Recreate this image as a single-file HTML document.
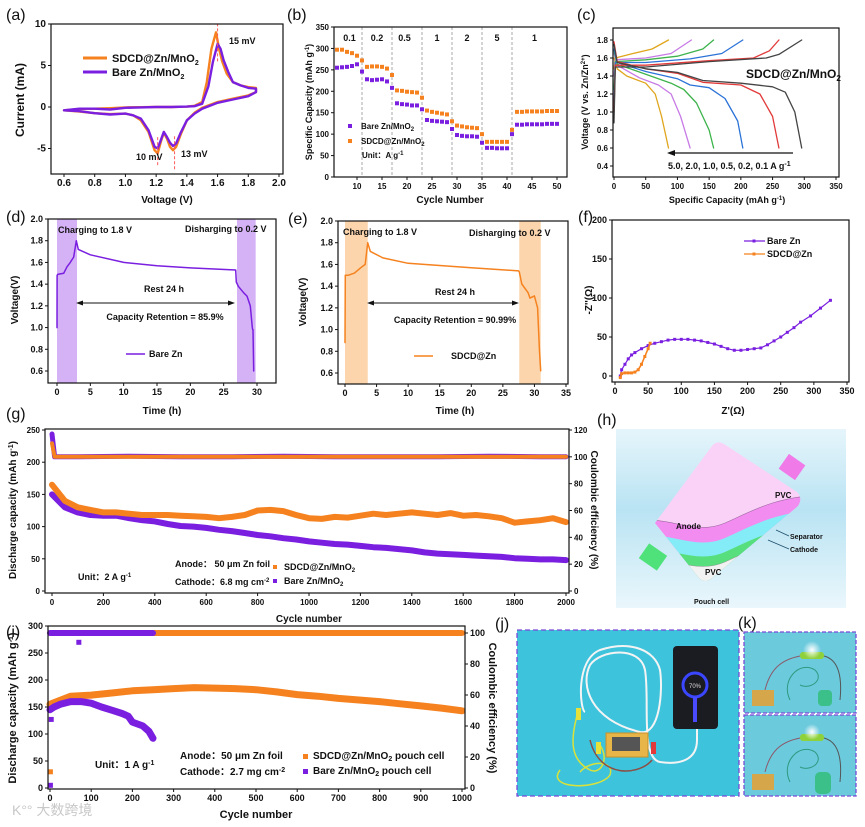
<!DOCTYPE html>
<html><head><meta charset="utf-8"><title>Battery figure</title>
<style>
html,body{margin:0;padding:0;background:#fff;}
svg{display:block;font-family:"Liberation Sans","Noto Sans CJK SC",sans-serif;}
.t{font-size:9px;font-weight:bold;fill:#111;}
.tt{font-size:10px;font-weight:bold;fill:#111;}
.pl{font-size:16px;fill:#111;}
</style></head>
<body>
<svg id="fig" width="865" height="827" viewBox="0 0 865 827" xmlns="http://www.w3.org/2000/svg">
<defs>
<linearGradient id="hbg" x1="0" y1="0" x2="0" y2="1">
<stop offset="0" stop-color="#e6f5fb"/><stop offset="0.45" stop-color="#b9e3f3"/><stop offset="1" stop-color="#eaf7fc"/>
</linearGradient>
<clipPath id="pouchclip"><path d="M655,523 L712,446 Q717,440 724,444 L797,492 Q803,498 798,506 L712,578 Q705,584 699,578 Z"/></clipPath>
<radialGradient id="glow" cx="0.5" cy="0.5" r="0.5"><stop offset="0" stop-color="#fff"/><stop offset="1" stop-color="#fff" stop-opacity="0"/></radialGradient>
</defs>

<!-- panel labels -->
<text class="pl" x="6" y="20">(a)</text>
<text class="pl" x="287" y="20">(b)</text>
<text class="pl" x="577" y="20">(c)</text>
<text class="pl" x="6" y="222">(d)</text>
<text class="pl" x="288" y="224">(e)</text>
<text class="pl" x="578" y="222">(f)</text>
<text class="pl" x="6" y="419">(g)</text>
<text class="pl" x="597" y="425">(h)</text>
<text class="pl" x="6" y="637">(i)</text>
<text class="pl" x="495" y="629">(j)</text>
<text class="pl" x="738" y="628">(k)</text>

<!-- axis titles -->
<text class="tt" x="167" y="203" text-anchor="middle">Voltage (V)</text>
<text class="tt" x="24" y="100" text-anchor="middle" transform="rotate(-90 24 100)" style="font-size:12px">Current (mA)</text>
<text class="tt" x="450" y="203" text-anchor="middle">Cycle Number</text>
<text class="t" x="312" y="102" text-anchor="middle" transform="rotate(-90 312 102)">Specific Capacity (mAh g<tspan dy="-3" font-size="6">-1</tspan><tspan dy="3">)</tspan></text>
<text class="t" x="727" y="203" text-anchor="middle">Specific Capacity (mAh g<tspan dy="-3" font-size="6">-1</tspan><tspan dy="3">)</tspan></text>
<text class="t" x="588" y="102" text-anchor="middle" transform="rotate(-90 588 102)">Voltage (V vs. Zn/Zn<tspan dy="-3" font-size="6">2+</tspan><tspan dy="3">)</tspan></text>
<text class="tt" x="162" y="414" text-anchor="middle">Time (h)</text>
<text class="tt" x="18" y="300" text-anchor="middle" transform="rotate(-90 18 300)">Voltage(V)</text>
<text class="tt" x="455" y="414" text-anchor="middle">Time (h)</text>
<text class="tt" x="306" y="302" text-anchor="middle" transform="rotate(-90 306 302)">Voltage(V)</text>
<text class="tt" x="733" y="414" text-anchor="middle">Z'(Ω)</text>
<text class="tt" x="592" y="300" text-anchor="middle" transform="rotate(-90 592 300)">-Z''(Ω)</text>
<text class="tt" x="309" y="622" text-anchor="middle">Cycle number</text>
<text class="tt" x="16" y="510" text-anchor="middle" transform="rotate(-90 16 510)">Discharge capacity (mAh g<tspan dy="-3" font-size="7">-1</tspan><tspan dy="3">)</tspan></text>
<text class="tt" x="591" y="510" text-anchor="middle" transform="rotate(90 591 510)">Coulombic efficiency (%)</text>
<text class="tt" x="256" y="818" text-anchor="middle" style="font-size:11px">Cycle number</text>
<text class="tt" x="16" y="708" text-anchor="middle" transform="rotate(-90 16 708)" style="font-size:11px">Discharge capacity (mAh g<tspan dy="-3" font-size="7">-1</tspan><tspan dy="3">)</tspan></text>
<text class="tt" x="489" y="708" text-anchor="middle" transform="rotate(90 489 708)" style="font-size:11px">Coulombic efficiency (%)</text>

<g id="plots"></g>

<!-- panel a legend & annotations -->
<g>
<line x1="83" y1="58" x2="107" y2="58" stroke="#f5821f" stroke-width="3"/>
<text class="tt" x="112" y="62" style="font-size:11px">SDCD@Zn/MnO<tspan dy="3" font-size="7">2</tspan></text>
<line x1="83" y1="72" x2="107" y2="72" stroke="#7a1fe0" stroke-width="3"/>
<text class="tt" x="112" y="76" style="font-size:11px">Bare Zn/MnO<tspan dy="3" font-size="7">2</tspan></text>
</g>
<text class="t" x="229" y="44">15 mV</text>
<text class="t" x="136" y="160">10 mV</text>
<text class="t" x="181" y="157">13 mV</text>

<!-- panel b legend -->
<g>
<rect x="348" y="124" width="4" height="4" fill="#7a1fe0"/>
<text class="t" x="361" y="129" style="font-size:8px">Bare Zn/MnO<tspan dy="2" font-size="6">2</tspan></text>
<rect x="348" y="139" width="4" height="4" fill="#f5821f"/>
<text class="t" x="361" y="144" style="font-size:8px">SDCD@Zn/MnO<tspan dy="2" font-size="6">2</tspan></text>
<text class="t" x="362" y="158" style="font-size:8px">Unit：A g<tspan dy="-3" font-size="6">-1</tspan></text>
</g>

<!-- panel c annotations -->
<text class="tt" x="746" y="78" style="font-size:12px">SDCD@Zn/MnO<tspan dy="3" font-size="8">2</tspan></text>
<line x1="793" y1="153" x2="672" y2="153" stroke="#111" stroke-width="1.2"/>
<polygon points="667,153 675,150 675,156" fill="#111"/>
<text class="t" x="668" y="169">5.0,  2.0,  1.0,  0.5,  0.2,  0.1 A g<tspan dy="-3" font-size="7">-1</tspan></text>

<!-- panel d annotations -->
<text class="t" x="58" y="233">Charging to 1.8 V</text>
<text class="t" x="185" y="232">Disharging to 0.2 V</text>
<text class="t" x="164" y="292" text-anchor="middle">Rest 24 h</text>
<line x1="80" y1="303" x2="231" y2="303" stroke="#111" stroke-width="1"/>
<polygon points="76,303 83,300.5 83,305.5" fill="#111"/><polygon points="235,303 228,300.5 228,305.5" fill="#111"/>
<text class="t" x="165" y="320" text-anchor="middle">Capacity Retention = 85.9%</text>
<line x1="126" y1="354" x2="145" y2="354" stroke="#7a1fe0" stroke-width="1.5"/>
<text class="t" x="149" y="357">Bare Zn</text>

<!-- panel e annotations -->
<text class="t" x="343" y="235">Charging to 1.8 V</text>
<text class="t" x="469" y="236">Disharging to 0.2 V</text>
<text class="t" x="455" y="295" text-anchor="middle">Rest 24 h</text>
<line x1="371" y1="303" x2="515" y2="303" stroke="#111" stroke-width="1"/>
<polygon points="367,303 374,300.5 374,305.5" fill="#111"/><polygon points="519,303 512,300.5 512,305.5" fill="#111"/>
<text class="t" x="455" y="323" text-anchor="middle">Capacity Retention = 90.99%</text>
<line x1="414" y1="356" x2="433" y2="356" stroke="#f5821f" stroke-width="1.5"/>
<text class="t" x="451" y="359">SDCD@Zn</text>

<!-- panel f legend -->
<g>
<line x1="744" y1="241" x2="765" y2="241" stroke="#7a1fe0" stroke-width="1.2"/><rect x="752.5" y="239.5" width="3" height="3" fill="#7a1fe0"/>
<text class="t" x="767" y="244">Bare Zn</text>
<line x1="744" y1="254" x2="765" y2="254" stroke="#f5821f" stroke-width="1.2"/><rect x="752.5" y="252.5" width="3" height="3" fill="#f5821f"/>
<text class="t" x="767" y="257">SDCD@Zn</text>
</g>

<!-- panel g annotations -->
<text class="t" x="78" y="580">Unit：2 A g<tspan dy="-3" font-size="6">-1</tspan></text>
<text class="t" x="175" y="567">Anode：  50 μm Zn foil</text>
<text class="t" x="175" y="585">Cathode：6.8 mg cm<tspan dy="-3" font-size="6">-2</tspan></text>
<rect x="273" y="565" width="4" height="4" fill="#f5821f"/>
<text class="t" x="284" y="570">SDCD@Zn/MnO<tspan dy="2" font-size="6">2</tspan></text>
<rect x="273" y="579" width="4" height="4" fill="#7a1fe0"/>
<text class="t" x="284" y="584">Bare Zn/MnO<tspan dy="2" font-size="6">2</tspan></text>

<!-- panel i annotations -->
<text class="t" x="95" y="768" style="font-size:10px">Unit：1 A g<tspan dy="-3" font-size="7">-1</tspan></text>
<text class="t" x="180" y="759" style="font-size:10px">Anode：50 μm Zn foil</text>
<text class="t" x="180" y="775" style="font-size:10px">Cathode：2.7 mg cm<tspan dy="-3" font-size="7">-2</tspan></text>
<rect x="303" y="754" width="5" height="5" fill="#f5821f"/>
<text class="t" x="313" y="759" style="font-size:10px">SDCD@Zn/MnO<tspan dy="2" font-size="7">2</tspan><tspan dy="-2"> pouch cell</tspan></text>
<rect x="303" y="769" width="5" height="5" fill="#7a1fe0"/>
<text class="t" x="313" y="774" style="font-size:10px">Bare Zn/MnO<tspan dy="2" font-size="7">2</tspan><tspan dy="-2"> pouch cell</tspan></text>
<text x="12" y="815" style="font-size:14px;fill:#c8c8c8">K°° 大数跨境</text>

<!-- panel h: pouch cell schematic -->
<g>
<rect x="616" y="429" width="230" height="179" fill="url(#hbg)"/>
<rect x="782" y="458" width="20" height="18" fill="#f07ae8" transform="rotate(35 792 467)"/>
<rect x="642" y="548" width="22" height="18" fill="#4fe27a" transform="rotate(35 653 557)"/>
<g clip-path="url(#pouchclip)">
<rect x="640" y="430" width="180" height="170" fill="#fbd2f7"/>
<path d="M640,521 C670,516 695,536 725,523 C752,511 775,497 820,495 L820,610 L640,610 Z" fill="#f28cf0" stroke="#9b6aa0" stroke-width="0.6"/>
<path d="M640,536 C670,531 695,551 725,538 C752,526 775,512 820,510 L820,610 L640,610 Z" fill="#84ecf7"/>
<path d="M640,550 C670,545 695,565 725,552 C752,540 775,526 820,524 L820,610 L640,610 Z" fill="#56df7c"/>
<path d="M640,560 C670,555 695,575 725,562 C752,550 775,536 820,534 L820,610 L640,610 Z" fill="#f2f2f2" stroke="#999" stroke-width="0.5"/>
</g>
<line x1="776" y1="530" x2="789" y2="536" stroke="#1d4f6b" stroke-width="0.8"/>
<line x1="768" y1="540" x2="789" y2="549" stroke="#1d4f6b" stroke-width="0.8"/>
<text class="t" x="775" y="498" style="font-size:8px">PVC</text>
<text class="t" x="676" y="529" style="font-size:8px">Anode</text>
<text class="t" x="790" y="539" style="font-size:7px">Separator</text>
<text class="t" x="790" y="552" style="font-size:7px">Cathode</text>
<text class="t" x="705" y="575" style="font-size:8px">PVC</text>
<text class="t" x="694" y="604" style="font-size:7px">Pouch cell</text>
</g>

<!-- panel j photo -->
<g>
<rect x="517" y="630" width="222" height="166" fill="#3ec3dc" stroke="#7b4ad6" stroke-width="1.3" stroke-dasharray="5,3"/>
<rect x="673" y="646" width="45" height="83" rx="4" fill="#1b1b22"/>
<circle cx="695" cy="685" r="12" fill="none" stroke="#3b46ff" stroke-width="3"/>
<path d="M695,697 L695,722" stroke="#4a4aff" stroke-width="4"/>
<text x="695" y="688" text-anchor="middle" style="font-size:6px;fill:#ddd">70%</text>
<path d="M697,729 L697,740 C697,760 680,765 660,762 C640,758 650,700 645,670 C640,645 600,650 590,665 C580,685 590,720 640,732 C660,736 663,690 660,670 C655,650 630,640 600,650 C575,660 580,710 585,712" fill="none" stroke="#f4f4f4" stroke-width="2"/>
<path d="M578,712 C570,740 570,760 590,770 C600,775 610,760 600,745" fill="none" stroke="#d9e23a" stroke-width="1.5"/>
<path d="M560,770 C545,790 600,790 610,775 C615,760 590,760 580,772" fill="none" stroke="#d9e23a" stroke-width="1.5"/>
<path d="M590,740 C600,780 640,775 652,760" fill="none" stroke="#8b4f44" stroke-width="1.5"/>
<rect x="606" y="733" width="42" height="24" fill="#e8b548" stroke="#c8902a"/>
<rect x="612" y="737" width="28" height="14" fill="#555"/>
<rect x="576" y="708" width="5" height="12" fill="#e8e13a"/>
<rect x="596" y="742" width="5" height="12" fill="#e8e13a"/>
<rect x="651" y="742" width="5" height="12" fill="#e23a3a"/>
</g>

<!-- panel k photos -->
<g>
<rect x="744" y="632" width="112" height="81" fill="#6ccadd" stroke="#7b4ad6" stroke-width="1.3" stroke-dasharray="4,2"/>
<rect x="800" y="652" width="24" height="7" rx="3" fill="#8ed13a"/>
<circle cx="812" cy="650" r="9" fill="url(#glow)"/>
<path d="M800,656 C780,660 770,670 765,690" fill="none" stroke="#8b5a6a" stroke-width="1"/>
<path d="M824,656 C840,660 842,680 840,700" fill="none" stroke="#555" stroke-width="1"/>
<path d="M790,700 C780,680 800,660 815,670 C825,680 810,690 800,685" fill="none" stroke="#2d9a80" stroke-width="1"/>
<rect x="752" y="690" width="22" height="16" fill="#d6a64a"/>
<rect x="818" y="690" width="14" height="16" rx="4" fill="#3cc08a"/>
</g>
<g>
<rect x="744" y="715" width="112" height="81" fill="#6ccadd" stroke="#7b4ad6" stroke-width="1.3" stroke-dasharray="4,2"/>
<rect x="800" y="734" width="24" height="7" rx="3" fill="#8ed13a"/>
<circle cx="812" cy="732" r="8" fill="url(#glow)"/>
<path d="M800,738 C780,742 770,752 765,772" fill="none" stroke="#8b5a6a" stroke-width="1"/>
<path d="M824,738 C840,742 842,762 840,782" fill="none" stroke="#555" stroke-width="1"/>
<path d="M790,782 C780,762 800,742 815,752 C825,762 810,772 800,767" fill="none" stroke="#2d9a80" stroke-width="1"/>
<rect x="752" y="774" width="22" height="16" fill="#d6a64a"/>
<rect x="815" y="772" width="16" height="22" rx="5" fill="#3cc08a"/>
</g>

<script>
// ---------- data ----------
// (a) CV
const aVoltSdcd = [0.6,0.7,0.8,0.9,1.0,1.1,1.2,1.3,1.4,1.45,1.5,1.53,1.56,1.59,1.61,1.63,1.66,1.7,1.75,1.8,1.85,1.85,1.8,1.7,1.6,1.5,1.45,1.4,1.36,1.33,1.31,1.29,1.27,1.25,1.23,1.21,1.19,1.15,1.1,1.05,1.0,0.9,0.8,0.7,0.6];
const aCurrSdcd = [-0.4,-0.25,-0.2,-0.15,-0.05,-0.02,0,0,0.05,0.15,0.6,3,7,9,7,5.5,4,3,2.6,2.4,2.3,1.8,1.4,1.0,0.6,-0.1,-0.7,-1.6,-3.3,-4.8,-5.2,-4.8,-3.8,-3.1,-4.2,-5.6,-5.2,-3,-1.6,-1.0,-0.8,-0.85,-0.75,-0.55,-0.4];
const aVoltBare = [0.6,0.7,0.8,0.9,1.0,1.1,1.2,1.3,1.4,1.45,1.5,1.54,1.57,1.6,1.62,1.64,1.67,1.7,1.75,1.8,1.85,1.85,1.8,1.7,1.6,1.5,1.45,1.4,1.36,1.33,1.31,1.29,1.27,1.25,1.23,1.21,1.19,1.15,1.1,1.05,1.0,0.9,0.8,0.7,0.6];
const aCurrBare = [-0.4,-0.2,-0.2,-0.3,-0.1,-0.05,0,0,0.05,0.1,0.4,2.5,5.5,7.6,7,5.6,4.2,3,2.6,2.3,2.2,1.8,1.3,0.9,0.5,-0.2,-0.8,-1.6,-3.1,-4.4,-4.7,-4.3,-3.6,-3.0,-4.0,-5.0,-4.8,-2.8,-1.4,-1.0,-0.8,-0.9,-0.75,-0.5,-0.4];
const aPeakV = [1.21,1.32,1.6];
const aXTicks = [0.6,0.8,1.0,1.2,1.4,1.6,1.8,2.0];
const aYTicks = [-5,0,5,10];
// (b) rate
const bCycles = [6,7,8,9,10,11,12,13,14,15,16,17,18,19,20,21,22,23,24,25,26,27,28,29,30,31,32,33,34,35,36,37,38,39,40,41,42,43,44,45,46,47,48,49,50];
const bSdcd = [297,297,292,289,283,272,257,258,258,257,253,238,202,201,199,198,197,185,155,152,150,148,146,130,120,118,116,115,114,100,82,82,82,82,82,110,152,152,153,153,153,153,154,154,154];
const bBare = [255,256,257,259,263,246,228,226,227,228,223,208,172,170,169,167,167,158,133,131,130,129,128,112,98,96,95,95,94,80,68,68,67,67,67,100,122,122,123,123,123,123,124,124,124];
const bDividers = [11,17,23,29,35,41];
const bRates = ['0.1','0.2','0.5','1','2','5','1'];
const bRateCycle = [8.5,14,19.5,26,32,38,45.5];
const bXTicks = [10,15,20,25,30,35,40,45,50];
const bYTicks = [0,50,100,150,200,250,300,350];
// (c) GCD curves (order: 5.0, 2.0, 1.0, 0.5, 0.2, 0.1 A/g)
const cColors = ['#e0a51c','#c77ae6','#3db34b','#2c73d8','#e23a3a','#444444'];
const cDisCap = [[0,5,20,50,65,75,86],[0,5,40,70,90,105,120],[0,5,50,90,110,130,150,157],[0,5,50,100,120,150,175,195,203],[0,5,50,100,140,200,230,250,260],[0,5,50,100,140,200,250,270,285,296]];
const cDisV = [[1.6,1.48,1.4,1.32,1.2,0.95,0.6],[1.65,1.52,1.38,1.3,1.2,0.95,0.6],[1.68,1.53,1.42,1.32,1.25,1.1,0.8,0.6],[1.7,1.55,1.45,1.37,1.3,1.27,1.15,0.9,0.6],[1.78,1.56,1.48,1.43,1.33,1.3,1.2,0.95,0.6],[1.75,1.55,1.48,1.44,1.35,1.32,1.28,1.22,1.0,0.6]];
const cChgCap = [[0,2,30,60,86],[0,2,50,90,122],[0,2,50,100,140,157],[0,2,50,120,170,203],[0,2,50,150,220,245,260],[0,2,50,150,240,260,296]];
const cChgV = [[1.48,1.6,1.65,1.7,1.8],[1.4,1.58,1.6,1.65,1.8],[1.25,1.56,1.58,1.62,1.7,1.8],[1.1,1.55,1.55,1.59,1.65,1.8],[1.0,1.52,1.52,1.57,1.6,1.68,1.8],[0.88,1.5,1.5,1.56,1.6,1.64,1.8]];
const cXTicks = [0,50,100,150,200,250,300,350];
const cYTicks = [0.4,0.6,0.8,1.0,1.2,1.4,1.6,1.8];
// (d) bare Zn self-discharge
const dTime = [0,0.02,0.1,1,1.5,2,2.5,2.9,3.2,5,10,15,20,26.8,26.9,27.2,28,28.5,29,29.3,29.35,29.4,29.5];
const dVolt = [1.0,1.48,1.49,1.5,1.56,1.6,1.65,1.8,1.72,1.67,1.6,1.57,1.55,1.53,1.42,1.38,1.32,1.29,1.2,1.0,0.98,0.98,0.6];
const dShade = [[0,3],[27,29.8]];
// (e) SDCD self-discharge
const eTime = [0,0.05,0.5,1.5,2.5,3.2,3.6,4,6,10,20,27.5,27.6,28,29,29.3,30,30.5,30.8,31];
const eVolt = [0.88,1.5,1.5,1.52,1.57,1.6,1.8,1.72,1.66,1.61,1.57,1.54,1.53,1.42,1.34,1.29,1.31,1.2,0.8,0.62];
const eShade = [[0,3.6],[27.6,31]];
const dXTicks = [0,5,10,15,20,25,30];
const eXTicks = [0,5,10,15,20,25,30,35];
const deYTicks = [0.6,0.8,1.0,1.2,1.4,1.6,1.8,2.0];
// (f) EIS
const fReBare = [8,10,15,20,25,30,40,50,60,70,80,90,100,110,120,130,140,150,160,170,180,190,200,210,220,230,240,250,260,270,280,295,310,325];
const fImBare = [0,8,15,22,27,30,35,39,42,44,46,47,47,47,46,45,43,41,38,35,33,33,34,35,36,40,45,50,56,62,69,77,87,97];
const fReSdcd = [8,10,15,20,25,30,35,40,45,50,53];
const fImSdcd = [-2,3,4,4,4,5,8,15,25,35,42];
const fXTicks = [0,50,100,150,200,250,300,350];
const fYTicks = [0,50,100,150,200];
// (g) long cycling 2 A/g
const gCycles = [0,50,100,150,200,250,300,350,400,450,500,550,600,650,700,750,800,850,900,950,1000,1050,1100,1150,1200,1250,1300,1350,1400,1450,1500,1550,1600,1650,1700,1750,1800,1850,1900,1950,2000];
const gSdcd = [165,140,130,126,122,122,120,118,118,118,117,116,115,113,115,118,125,126,124,118,113,112,115,114,117,120,118,120,122,120,118,121,117,118,116,113,106,108,110,113,107];
const gBare = [150,130,122,118,117,117,113,110,108,104,101,100,98,95,93,90,87,85,82,80,77,75,73,72,70,68,67,65,63,60,58,57,56,55,54,53,51,50,49,49,48];
const gCeCycles = [0,10,100,300,500,700,900,1100,1300,1500,1700,1900,2000];
const gCeSdcd = [110,100,100,100,100,100,100,100,100,100,100,100,100];
const gCeBare = [117,100,100,100.5,100,100,100.5,100,100,100,100.5,100,100];
const gXTicks = [0,200,400,600,800,1000,1200,1400,1600,1800,2000];
const gYTicks = [0,50,100,150,200,250];
const gY2Ticks = [0,20,40,60,80,100,120];
// (i) pouch cell 1 A/g
const iCycSdcd = [0,50,100,150,200,250,300,350,400,450,500,550,600,650,700,750,800,850,900,950,1000];
const iSdcd = [155,170,172,176,180,182,184,186,185,184,182,178,173,170,166,163,160,156,152,148,143];
const iCycBare = [0,10,25,50,75,100,125,150,175,190,200,225,240,250];
const iBare = [145,150,155,160,160,157,150,144,138,133,122,115,105,92];
const iCeCycSdcd = [250,1000];
const iCeSdcd = [100,100];
const iCeCycBare = [0,100,200,250];
const iCeBare = [100,100,100,100];
const iOutCyc = [1,3,70];
const iOutVal = [5,127,94];
const iXTicks = [0,100,200,300,400,500,600,700,800,900,1000];
const iYTicks = [0,50,100,150,200,250,300];
const iY2Ticks = [0,20,40,60,80,100];

// ---------- helpers ----------
const NS = 'http://www.w3.org/2000/svg';
const root = document.getElementById('plots');
function sc(d0, d1, r0, r1) { return v => r0 + (v - d0) * (r1 - r0) / (d1 - d0); }
function mk(tag, parent, name) {
  const e = document.createElementNS(NS, tag);
  
  
  parent.appendChild(e);
  return e;
}
function group(name) { return mk('g', root, name); }
function frame(g, x0, y0, x1, y1, name) {
  const r = mk('rect', g, name);
  r.setAttribute('x', x0); r.setAttribute('y', y0);
  r.setAttribute('width', x1 - x0); r.setAttribute('height', y1 - y0);
  r.setAttribute('fill', 'none'); r.setAttribute('stroke', '#111'); r.setAttribute('stroke-width', '1.2');
}
function label(g, x, y, s, anchor, name, size) {
  const t = mk('text', g, name);
  t.setAttribute('x', x); t.setAttribute('y', y);
  t.setAttribute('class', 't');
  t.setAttribute('text-anchor', anchor);
  if (size) t.style.fontSize = size + 'px';
  t.textContent = s;
  return t;
}
function fmt(v, dec) { return dec ? v.toFixed(dec) : String(v); }
function xAxis(g, s, ticks, yb, name, size, dec) {
  ticks.forEach(v => {
    const l = mk('line', g, name + '-tick');
    l.setAttribute('x1', s(v)); l.setAttribute('x2', s(v));
    l.setAttribute('y1', yb); l.setAttribute('y2', yb + 3);
    l.setAttribute('stroke', '#111');
    label(g, s(v), yb + 12, fmt(v, dec), 'middle', name + '-tick-label', size);
  });
}
function yAxis(g, s, ticks, xb, side, name, size, dec) {
  ticks.forEach(v => {
    const l = mk('line', g, name + '-tick');
    l.setAttribute('x1', xb); l.setAttribute('x2', xb + 3 * side);
    l.setAttribute('y1', s(v)); l.setAttribute('y2', s(v));
    l.setAttribute('stroke', '#111');
    label(g, xb + 5 * side, s(v) + 3, fmt(v, dec), side < 0 ? 'end' : 'start', name + '-tick-label', size);
  });
}
function line(g, xs, ys, sx, sy, color, w, name) {
  const p = mk('polyline', g, name);
  p.setAttribute('points', xs.map((x, i) => sx(x).toFixed(1) + ',' + sy(ys[i]).toFixed(1)).join(' '));
  p.setAttribute('fill', 'none'); p.setAttribute('stroke', color);
  p.setAttribute('stroke-width', w); p.setAttribute('stroke-linejoin', 'round'); p.setAttribute('stroke-linecap', 'round');
  return p;
}
function squares(g, xs, ys, sx, sy, color, size, name) {
  xs.forEach((x, i) => {
    const r = mk('rect', g, name);
    r.setAttribute('x', sx(x) - size / 2); r.setAttribute('y', sy(ys[i]) - size / 2);
    r.setAttribute('width', size); r.setAttribute('height', size); r.setAttribute('fill', color);
  });
}
const OR = '#f5821f', PU = '#7a1fe0';

// (a)
(function () {
  const g = group('panel-a-cv');
  const x = sc(0.6, 2.0, 64, 279), y = sc(0, 10, 107, 24);
  line(g, aVoltSdcd, aCurrSdcd, x, y, OR, 2.4, 'a-sdcd-curve');
  line(g, aVoltBare, aCurrBare, x, y, PU, 2.4, 'a-bare-curve');
  const spans = [[-7, -3.5], [-7.5, -3.5], [5.5, 10]];
  aPeakV.forEach((v, i) => {
    const l = mk('line', g, 'a-peak-marker');
    l.setAttribute('x1', x(v)); l.setAttribute('x2', x(v));
    l.setAttribute('y1', y(spans[i][0])); l.setAttribute('y2', y(spans[i][1]));
    l.setAttribute('stroke', '#ff5a5a'); l.setAttribute('stroke-dasharray', '3,2'); l.setAttribute('stroke-width', '1');
  });
  frame(g, 51, 24, 283, 174, 'a-plot-frame');
  xAxis(g, x, aXTicks, 174, 'a-x-axis', 10, 1);
  yAxis(g, y, aYTicks, 51, -1, 'a-y-axis', 10);
})();

// (b)
(function () {
  const g = group('panel-b-rate');
  const x = sc(10, 50, 357, 557), y = sc(0, 350, 177, 27);
  bDividers.forEach(c => {
    const l = mk('line', g, 'b-rate-divider');
    l.setAttribute('x1', x(c)); l.setAttribute('x2', x(c)); l.setAttribute('y1', 27); l.setAttribute('y2', 177);
    l.setAttribute('stroke', '#aaa'); l.setAttribute('stroke-dasharray', '3,2');
  });
  bRates.forEach((r, i) => label(g, x(bRateCycle[i]), 41, r, 'middle', 'b-rate-label', 9));
  squares(g, bCycles, bSdcd, x, y, OR, 4, 'b-sdcd-point');
  squares(g, bCycles, bBare, x, y, PU, 4, 'b-bare-point');
  frame(g, 334, 27, 567, 177, 'b-plot-frame');
  xAxis(g, x, bXTicks, 177, 'b-x-axis', 8);
  yAxis(g, y, bYTicks, 334, -1, 'b-y-axis', 8);
})();

// (c)
(function () {
  const g = group('panel-c-gcd');
  const x = sc(0, 350, 614, 836), y = sc(0.4, 1.8, 166, 40);
  cColors.forEach((col, i) => {
    line(g, cDisCap[i], cDisV[i], x, y, col, 1.3, 'c-discharge-curve');
    line(g, cChgCap[i], cChgV[i], x, y, col, 1.3, 'c-charge-curve');
  });
  frame(g, 613, 28, 839, 177, 'c-plot-frame');
  xAxis(g, x, cXTicks, 177, 'c-x-axis', 8);
  yAxis(g, y, cYTicks, 613, -1, 'c-y-axis', 8, 1);
})();

// (d),(e)
function selfDis(name, tArr, vArr, shades, x, y, box, color, shadeColor, xt) {
  const g = group(name);
  shades.forEach(s => {
    const r = mk('rect', g, name + '-shade');
    r.setAttribute('x', x(s[0])); r.setAttribute('width', x(s[1]) - x(s[0]));
    r.setAttribute('y', box[1]); r.setAttribute('height', box[3] - box[1]);
    r.setAttribute('fill', shadeColor);
  });
  line(g, tArr, vArr, x, y, color, 1.5, name + '-curve');
  frame(g, box[0], box[1], box[2], box[3], name + '-frame');
  xAxis(g, x, xt, box[3], name + '-x-axis', 9);
  yAxis(g, y, deYTicks, box[0], -1, name + '-y-axis', 9, 1);
}
selfDis('panel-d', dTime, dVolt, dShade, sc(0, 30, 57, 257), sc(0.6, 2.0, 371, 219), [48, 219, 276, 383], PU, '#d5b2f6', dXTicks);
selfDis('panel-e', eTime, eVolt, eShade, sc(0, 35, 345, 566), sc(0.6, 2.0, 373, 221), [338, 221, 568, 384], OR, '#fcd5ac', eXTicks);

// (f)
(function () {
  const g = group('panel-f-eis');
  const x = sc(0, 350, 615, 847), y = sc(0, 200, 376, 220);
  line(g, fReBare, fImBare, x, y, PU, 1.2, 'f-bare-line');
  squares(g, fReBare, fImBare, x, y, PU, 3, 'f-bare-point');
  line(g, fReSdcd, fImSdcd, x, y, OR, 1.6, 'f-sdcd-line');
  squares(g, fReSdcd, fImSdcd, x, y, OR, 3, 'f-sdcd-point');
  frame(g, 612, 220, 849, 382, 'f-plot-frame');
  xAxis(g, x, fXTicks, 382, 'f-x-axis', 9);
  yAxis(g, y, fYTicks, 612, -1, 'f-y-axis', 9);
})();

// (g)
(function () {
  const g = group('panel-g-cycling');
  const x = sc(0, 2000, 52, 566), y = sc(0, 250, 591, 430), y2 = sc(0, 120, 591, 430);
  line(g, gCeCycles, gCeBare, x, y2, PU, 5, 'g-bare-ce');
  line(g, gCeCycles, gCeSdcd, x, y2, OR, 4, 'g-sdcd-ce');
  line(g, gCycles, gBare, x, y, PU, 6, 'g-bare-capacity');
  line(g, gCycles, gSdcd, x, y, OR, 6, 'g-sdcd-capacity');
  frame(g, 45, 429, 569, 593, 'g-plot-frame');
  xAxis(g, x, gXTicks, 593, 'g-x-axis', 8);
  yAxis(g, y, gYTicks, 45, -1, 'g-y-axis', 8);
  yAxis(g, y2, gY2Ticks, 569, 1, 'g-y2-axis', 8);
})();

// (i)
(function () {
  const g = group('panel-i-pouch');
  const x = sc(0, 1000, 50, 462), y = sc(0, 300, 788, 626), y2 = sc(0, 100, 788, 633);
  line(g, iCeCycSdcd, iCeSdcd, x, y2, OR, 6, 'i-sdcd-ce');
  line(g, iCeCycBare, iCeBare, x, y2, PU, 6, 'i-bare-ce');
  line(g, iCycSdcd, iSdcd, x, y, OR, 7, 'i-sdcd-capacity');
  line(g, iCycBare, iBare, x, y, PU, 7, 'i-bare-capacity');
  squares(g, [1], [30], x, y, OR, 5, 'i-sdcd-outlier');
  squares(g, iOutCyc.slice(0, 2), iOutVal.slice(0, 2), x, y, PU, 5, 'i-bare-outlier');
  squares(g, iOutCyc.slice(2), iOutVal.slice(2), x, y2, PU, 5, 'i-bare-ce-outlier');
  frame(g, 48, 626, 465, 789, 'i-plot-frame');
  xAxis(g, x, iXTicks, 789, 'i-x-axis', 9);
  yAxis(g, y, iYTicks, 48, -1, 'i-y-axis', 9);
  yAxis(g, y2, iY2Ticks, 465, 1, 'i-y2-axis', 9);
})();
</script>
</svg>
</body></html>
